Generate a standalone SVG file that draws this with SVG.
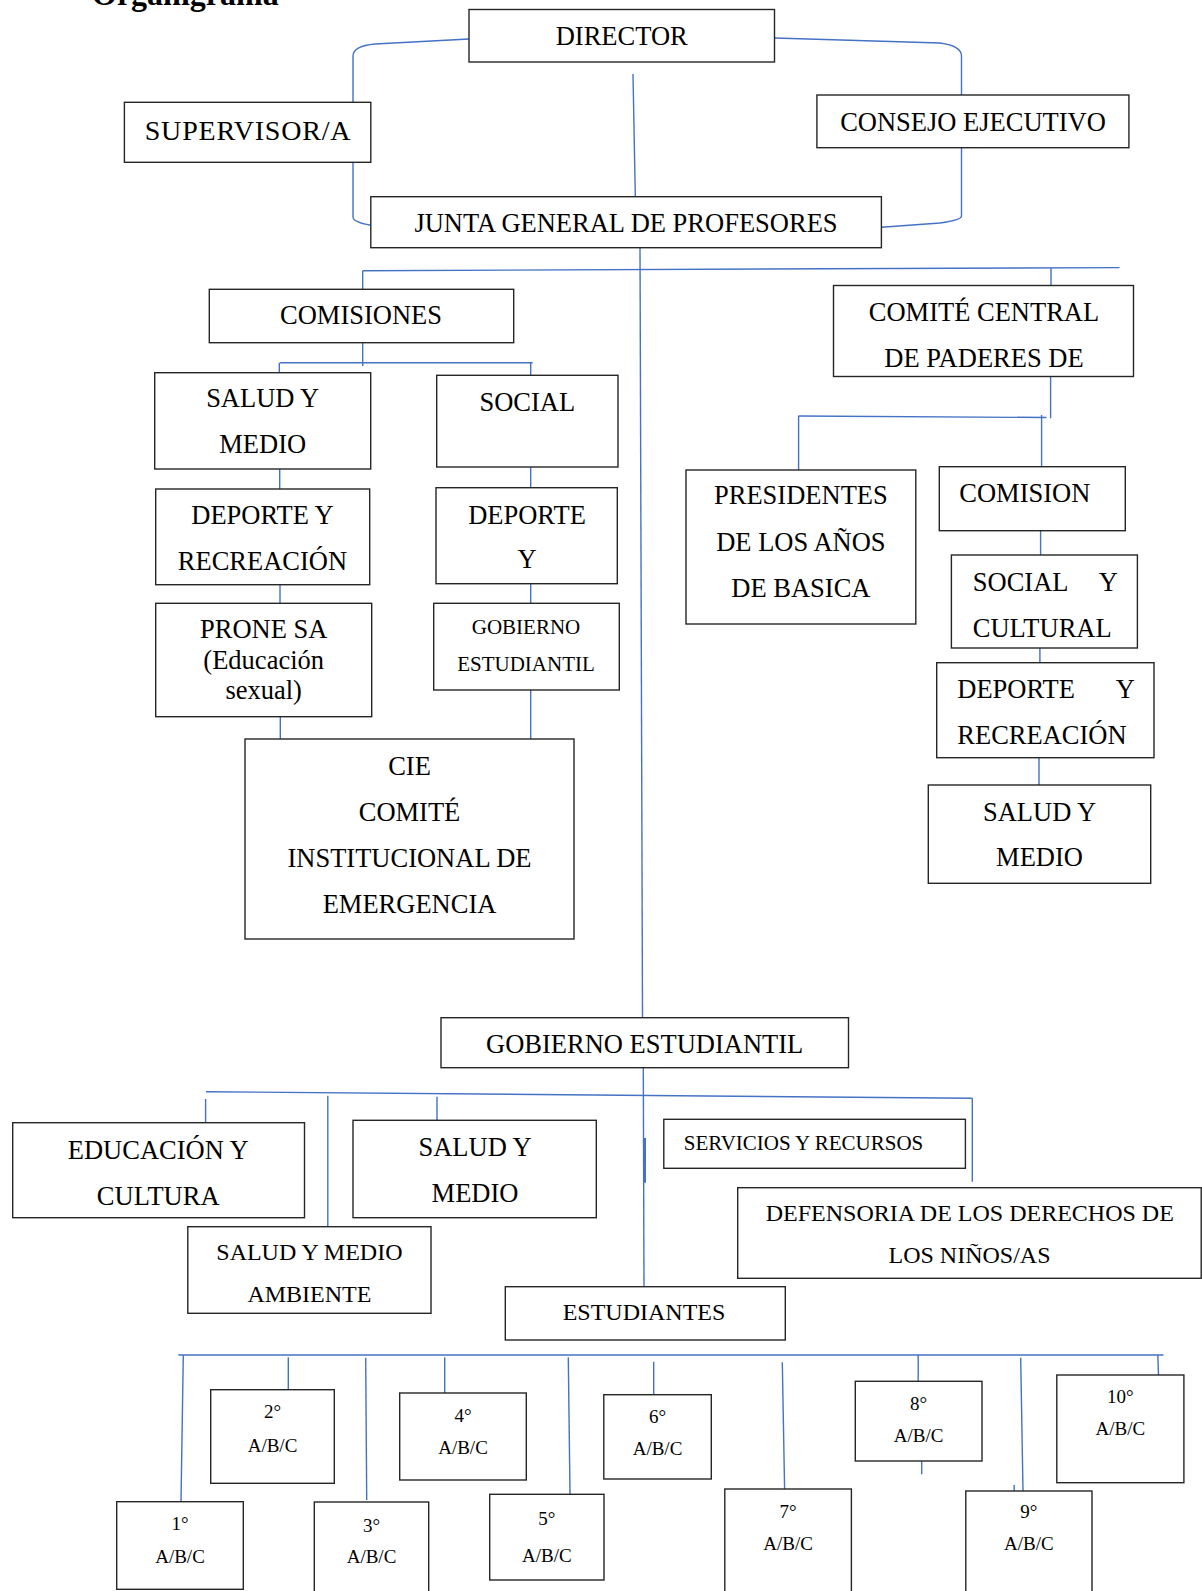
<svg xmlns="http://www.w3.org/2000/svg" width="1202" height="1591" viewBox="0 0 1202 1591">
<style>
.box{fill:#fff;stroke:#262626;stroke-width:1.4}
.ln{stroke:#4472C4;stroke-width:1.4;fill:none}
text{font-family:"Liberation Serif","Times New Roman",serif;font-size:26.5px;fill:#000;text-anchor:middle}
.s{text-anchor:start}
.e{text-anchor:end}
.f28{font-size:28px;letter-spacing:0.8px}
.f24{font-size:24px}
.f21{font-size:21px}
.f19{font-size:19px}
.title{font-size:32px;font-weight:bold;text-anchor:start}
</style>
<rect width="1202" height="1591" fill="#fff"/>
<g id="title">
<text class="title" x="40" y="5">•</text>
<text class="title" x="92" y="5">Organigrama</text>
</g>
<g id="connectors">
<path class="ln" d="M469,39 L375,44 Q353,46 353,56 L353,102.3"/>
<path class="ln" d="M353,162.3 L353,217 Q353,222 370.8,225.3"/>
<path class="ln" d="M774.7,38 L940,43 Q961.5,46 961.5,56 L961.5,95"/>
<path class="ln" d="M961.5,147.7 L961.5,216 Q961.5,220 940,223 L881.4,227.3"/>
<path class="ln" d="M633,74 L635.3,196.7"/>
<path class="ln" d="M640,247.7 L642.5,1017.7"/>
<path class="ln" d="M362.7,270.7 L1119.5,267.6"/>
<path class="ln" d="M362.7,270.7 V289.3"/>
<path class="ln" d="M1051,268 V285.5"/>
<path class="ln" d="M362.7,342.7 V366"/>
<path class="ln" d="M280,362.7 H532.7"/>
<path class="ln" d="M279.3,362.7 V372.7"/>
<path class="ln" d="M530.7,362.7 V375.3"/>
<path class="ln" d="M279.7,469 V489"/>
<path class="ln" d="M280,584.7 V603.3"/>
<path class="ln" d="M280.3,716.7 V739"/>
<path class="ln" d="M530.7,467 V487.7"/>
<path class="ln" d="M530.7,583.7 V603.3"/>
<path class="ln" d="M530.7,690 V739"/>
<path class="ln" d="M1050.6,376.5 V418.3"/>
<path class="ln" d="M798.3,416 L1046.5,417.5"/>
<path class="ln" d="M1041.6,415 V466.7"/>
<path class="ln" d="M798.6,416 V470"/>
<path class="ln" d="M1040.6,530.7 V555"/>
<path class="ln" d="M1039.9,648 V662.7"/>
<path class="ln" d="M1039,757.7 V785"/>
<path class="ln" d="M206,1091.7 L972.3,1098.3"/>
<path class="ln" d="M205.6,1099 V1122.7"/>
<path class="ln" d="M327.8,1095.7 V1226.7"/>
<path class="ln" d="M437,1096.7 V1120.3"/>
<path class="ln" d="M972.3,1098.3 V1181.7"/>
<path class="ln" d="M643.3,1067.7 L644,1286.7"/>
<path class="ln" d="M645,1138 V1182.7" style="stroke-width:2"/>
<path class="ln" d="M178.3,1355 H1163.5"/>
<path class="ln" d="M183.3,1355 L181,1501.7"/>
<path class="ln" d="M288.3,1357.3 V1389.7"/>
<path class="ln" d="M365.7,1357.7 L366.7,1500"/>
<path class="ln" d="M444.7,1357.3 V1393"/>
<path class="ln" d="M568.3,1357.3 L570,1494.3"/>
<path class="ln" d="M653.7,1361.7 V1394.7"/>
<path class="ln" d="M782.3,1362.3 L784.6,1489"/>
<path class="ln" d="M918.2,1355 V1381.3"/>
<path class="ln" d="M921.7,1461 V1474.3"/>
<path class="ln" d="M1020.7,1357.7 L1023,1491"/>
<path class="ln" d="M1014.2,1485 V1491"/>
<path class="ln" d="M1157.8,1355 L1158.5,1375"/>
</g>
<g id="director"><rect class="box" x="469" y="9.5" width="305.5" height="52.5"/><text x="621.7" y="45">DIRECTOR</text></g>
<g id="supervisor"><rect class="box" x="124.4" y="102.3" width="246.4" height="60"/><text class="f28" x="248" y="140">SUPERVISOR/A</text></g>
<g id="consejo"><rect class="box" x="816.9" y="95" width="312" height="52.7"/><text x="973" y="130.7">CONSEJO EJECUTIVO</text></g>
<g id="junta"><rect class="box" x="370.8" y="196.7" width="510.6" height="51"/><text x="626" y="232.3">JUNTA GENERAL DE PROFESORES</text></g>
<g id="comisiones"><rect class="box" x="209.3" y="289.3" width="304.4" height="53.4"/><text x="361" y="324">COMISIONES</text></g>
<g id="comite-central"><rect class="box" x="833.5" y="285.5" width="300" height="91"/><text x="984" y="321">COMITÉ CENTRAL</text><text x="984" y="367.3">DE PADERES DE</text></g>
<g id="salud-medio-1"><rect class="box" x="154.7" y="372.7" width="216" height="96.3"/><text x="262.7" y="407.3">SALUD Y</text><text x="262.7" y="453.3">MEDIO</text></g>
<g id="social-1"><rect class="box" x="436.7" y="375.3" width="181.3" height="91.7"/><text x="527.3" y="410.7">SOCIAL</text></g>
<g id="deporte-1"><rect class="box" x="155.7" y="489" width="214" height="95.7"/><text x="262.5" y="524">DEPORTE Y</text><text x="262.5" y="570">RECREACIÓN</text></g>
<g id="deporte-2"><rect class="box" x="436" y="487.7" width="181.3" height="96"/><text x="527" y="524">DEPORTE</text><text x="527" y="568.3">Y</text></g>
<g id="prone"><rect class="box" x="155.7" y="603.3" width="216" height="113.4"/><text x="263.7" y="638.3">PRONE SA</text><text x="263.7" y="669">(Educación</text><text x="263.7" y="698.5">sexual)</text></g>
<g id="gobierno-1"><rect class="box" x="433.7" y="603.3" width="185.6" height="86.7"/><text class="f21" x="526" y="634">GOBIERNO</text><text class="f21" x="526" y="670.7">ESTUDIANTIL</text></g>
<g id="cie"><rect class="box" x="245" y="739" width="329" height="200"/><text x="409.5" y="775">CIE</text><text x="409.5" y="821">COMITÉ</text><text x="409.5" y="867">INSTITUCIONAL DE</text><text x="409.5" y="912.7">EMERGENCIA</text></g>
<g id="presidentes"><rect class="box" x="686" y="470" width="229.8" height="154"/><text x="800.9" y="504.3">PRESIDENTES</text><text x="800.9" y="550.7">DE LOS AÑOS</text><text x="800.9" y="596.7">DE BASICA</text></g>
<g id="comision"><rect class="box" x="939.3" y="466.7" width="186" height="64"/><text class="s" x="959.3" y="501.7">COMISION</text></g>
<g id="social-cultural"><rect class="box" x="951.4" y="555" width="186" height="93"/><text class="s" x="972.8" y="590.7">SOCIAL</text><text class="e" x="1118" y="590.7">Y</text><text class="s" x="972.8" y="636.7">CULTURAL</text></g>
<g id="deporte-3"><rect class="box" x="936.7" y="662.7" width="217.3" height="95"/><text class="s" x="957.3" y="698.3">DEPORTE</text><text class="e" x="1135" y="698.3">Y</text><text class="s" x="957.3" y="744">RECREACIÓN</text></g>
<g id="salud-medio-2"><rect class="box" x="928.3" y="785" width="222.4" height="98.3"/><text x="1039.5" y="820.7">SALUD Y</text><text x="1039.5" y="866">MEDIO</text></g>
<g id="gobierno-2"><rect class="box" x="441" y="1017.7" width="407.5" height="50"/><text x="644.7" y="1053.3">GOBIERNO ESTUDIANTIL</text></g>
<g id="educacion"><rect class="box" x="12.7" y="1122.7" width="291.8" height="95"/><text x="158.2" y="1159">EDUCACIÓN Y</text><text x="158.2" y="1205">CULTURA</text></g>
<g id="salud-medio-3"><rect class="box" x="353" y="1120.3" width="243.3" height="97.4"/><text x="475" y="1156">SALUD Y</text><text x="475" y="1202">MEDIO</text></g>
<g id="servicios"><rect class="box" x="663.8" y="1119.3" width="301.6" height="49"/><text class="s f21" x="683.8" y="1150">SERVICIOS Y RECURSOS</text></g>
<g id="salud-ambiente"><rect class="box" x="187.8" y="1226.7" width="243.2" height="86.6"/><text class="f24" x="309.4" y="1260">SALUD Y MEDIO</text><text class="f24" x="309.4" y="1301.7">AMBIENTE</text></g>
<g id="defensoria"><rect class="box" x="737.7" y="1187.7" width="463.5" height="90.6"/><text class="f24" x="969.8" y="1220.7">DEFENSORIA DE LOS DERECHOS DE</text><text class="f24" x="969.5" y="1262.7">LOS NIÑOS/AS</text></g>
<g id="estudiantes"><rect class="box" x="505.3" y="1286.7" width="280" height="53.3"/><text class="f24" x="644" y="1319.5">ESTUDIANTES</text></g>
<g id="g1"><rect class="box" x="116.7" y="1501.7" width="126.6" height="87.6"/><text class="f19" x="180" y="1530">1°</text><text class="f19" x="180" y="1563.3">A/B/C</text></g>
<g id="g2"><rect class="box" x="210.7" y="1389.7" width="123.6" height="93.6"/><text class="f19" x="272.5" y="1418.3">2°</text><text class="f19" x="272.5" y="1451.7">A/B/C</text></g>
<g id="g3"><rect class="box" x="314.3" y="1502" width="114.4" height="100"/><text class="f19" x="371.5" y="1531.7">3°</text><text class="f19" x="371.5" y="1563.3">A/B/C</text></g>
<g id="g4"><rect class="box" x="399.7" y="1393" width="126.6" height="87"/><text class="f19" x="463" y="1421.7">4°</text><text class="f19" x="463" y="1454">A/B/C</text></g>
<g id="g5"><rect class="box" x="489.7" y="1494.3" width="114.3" height="85.7"/><text class="f19" x="546.8" y="1525">5°</text><text class="f19" x="546.8" y="1561.7">A/B/C</text></g>
<g id="g6"><rect class="box" x="603.8" y="1394.7" width="107.5" height="84.3"/><text class="f19" x="657.5" y="1423.3">6°</text><text class="f19" x="657.5" y="1455">A/B/C</text></g>
<g id="g7"><rect class="box" x="724.8" y="1489" width="126.6" height="110"/><text class="f19" x="788.1" y="1518.3">7°</text><text class="f19" x="788.1" y="1550">A/B/C</text></g>
<g id="g8"><rect class="box" x="855.3" y="1381.3" width="126.7" height="79.7"/><text class="f19" x="918.6" y="1410">8°</text><text class="f19" x="918.6" y="1441.7">A/B/C</text></g>
<g id="g9"><rect class="box" x="965.8" y="1491" width="126.2" height="110"/><text class="f19" x="1028.9" y="1518.3">9°</text><text class="f19" x="1028.9" y="1550">A/B/C</text></g>
<g id="g10"><rect class="box" x="1056.8" y="1375" width="127.1" height="107.7"/><text class="f19" x="1120.3" y="1403.3">10°</text><text class="f19" x="1120.3" y="1435">A/B/C</text></g>
</svg>
